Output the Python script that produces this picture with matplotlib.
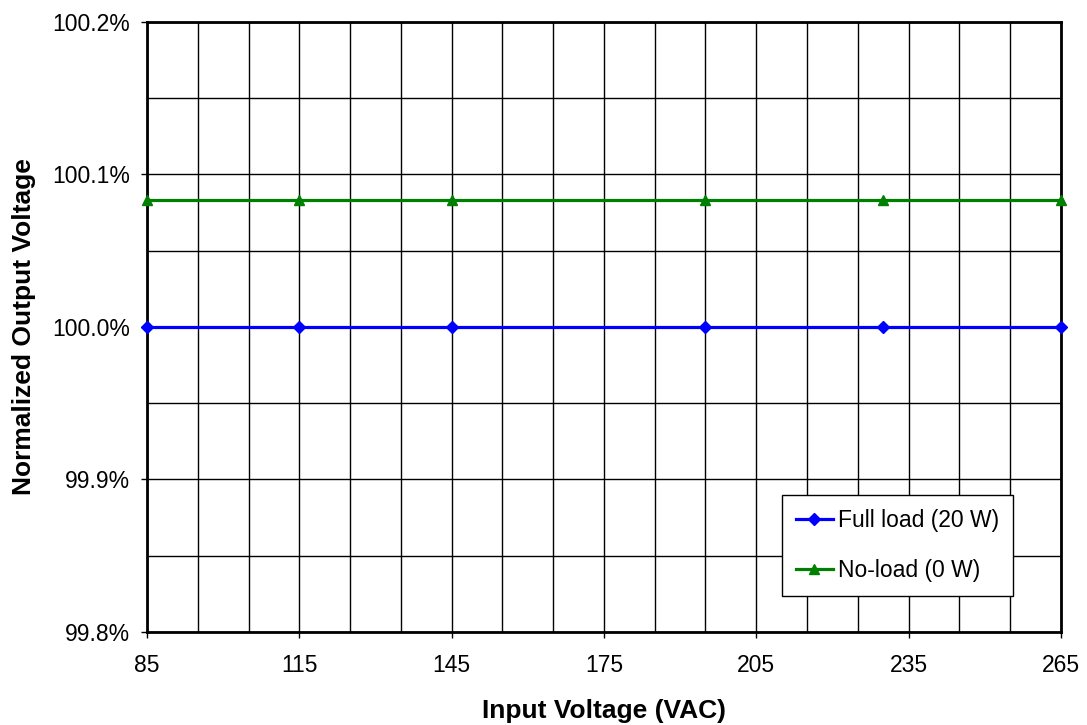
import matplotlib.pyplot as plt
import matplotlib.ticker as mticker
import numpy as np

plt.rcParams['font.family'] = ['Liberation Sans', 'DejaVu Sans']

# data
vin = [85, 115, 145, 195, 230, 265]
full_load = [100.000, 100.000, 100.000, 100.000, 100.000, 100.000]
no_load = [100.083, 100.083, 100.083, 100.083, 100.083, 100.083]

x_major = np.arange(85, 266, 30)
x_minor = np.arange(85, 266, 10)
y_major = [99.8, 99.9, 100.0, 100.1, 100.2]
y_minor = [99.85, 99.95, 100.05, 100.15]

fig = plt.figure(figsize=(10.87, 7.25), dpi=100)
ax = fig.add_axes([0.1352, 0.1283, 0.8408, 0.8414])

ax.plot(vin, full_load, color='#0000ff', lw=2.3, marker='D', ms=6,
        label='Full load (20 W)', clip_on=False, zorder=3)
ax.plot(vin, no_load, color='#008000', lw=2.3, marker='^', ms=7,
        label='No-load (0 W)', clip_on=False, zorder=3)

ax.set_xlim(85, 265)
ax.set_ylim(99.8, 100.2)
ax.xaxis.set_major_locator(mticker.FixedLocator(x_major))
ax.xaxis.set_minor_locator(mticker.FixedLocator(x_minor))
ax.yaxis.set_major_locator(mticker.FixedLocator(y_major))
ax.yaxis.set_minor_locator(mticker.FixedLocator(y_minor))
ax.yaxis.set_major_formatter(mticker.FuncFormatter(lambda v, p: f'{v:.1f}%'))

ax.grid(which='both', color='black', lw=1)
ax.set_axisbelow(True)
ax.tick_params(which='major', direction='out', length=4, width=1, labelsize=16.5)
ax.tick_params(axis='x', which='major', pad=12)
ax.tick_params(axis='y', which='major', pad=8)
ax.tick_params(which='minor', length=0)
for s in ax.spines.values():
    s.set_linewidth(2)

ax.set_xlabel('Input Voltage (VAC)', fontsize=19, fontweight='bold', labelpad=16)
ax.set_ylabel('Normalized Output Voltage', fontsize=19, fontweight='bold', labelpad=12)

leg = ax.legend(loc='lower right', bbox_to_anchor=(0.9475, 0.059), fontsize=16.5,
                frameon=True, fancybox=False, framealpha=1, edgecolor='black',
                labelspacing=1.17, handlelength=1.6, handletextpad=0.22,
                borderpad=0.62, borderaxespad=0)
leg.get_frame().set_linewidth(1)

fig.savefig('out.png', dpi=100)
